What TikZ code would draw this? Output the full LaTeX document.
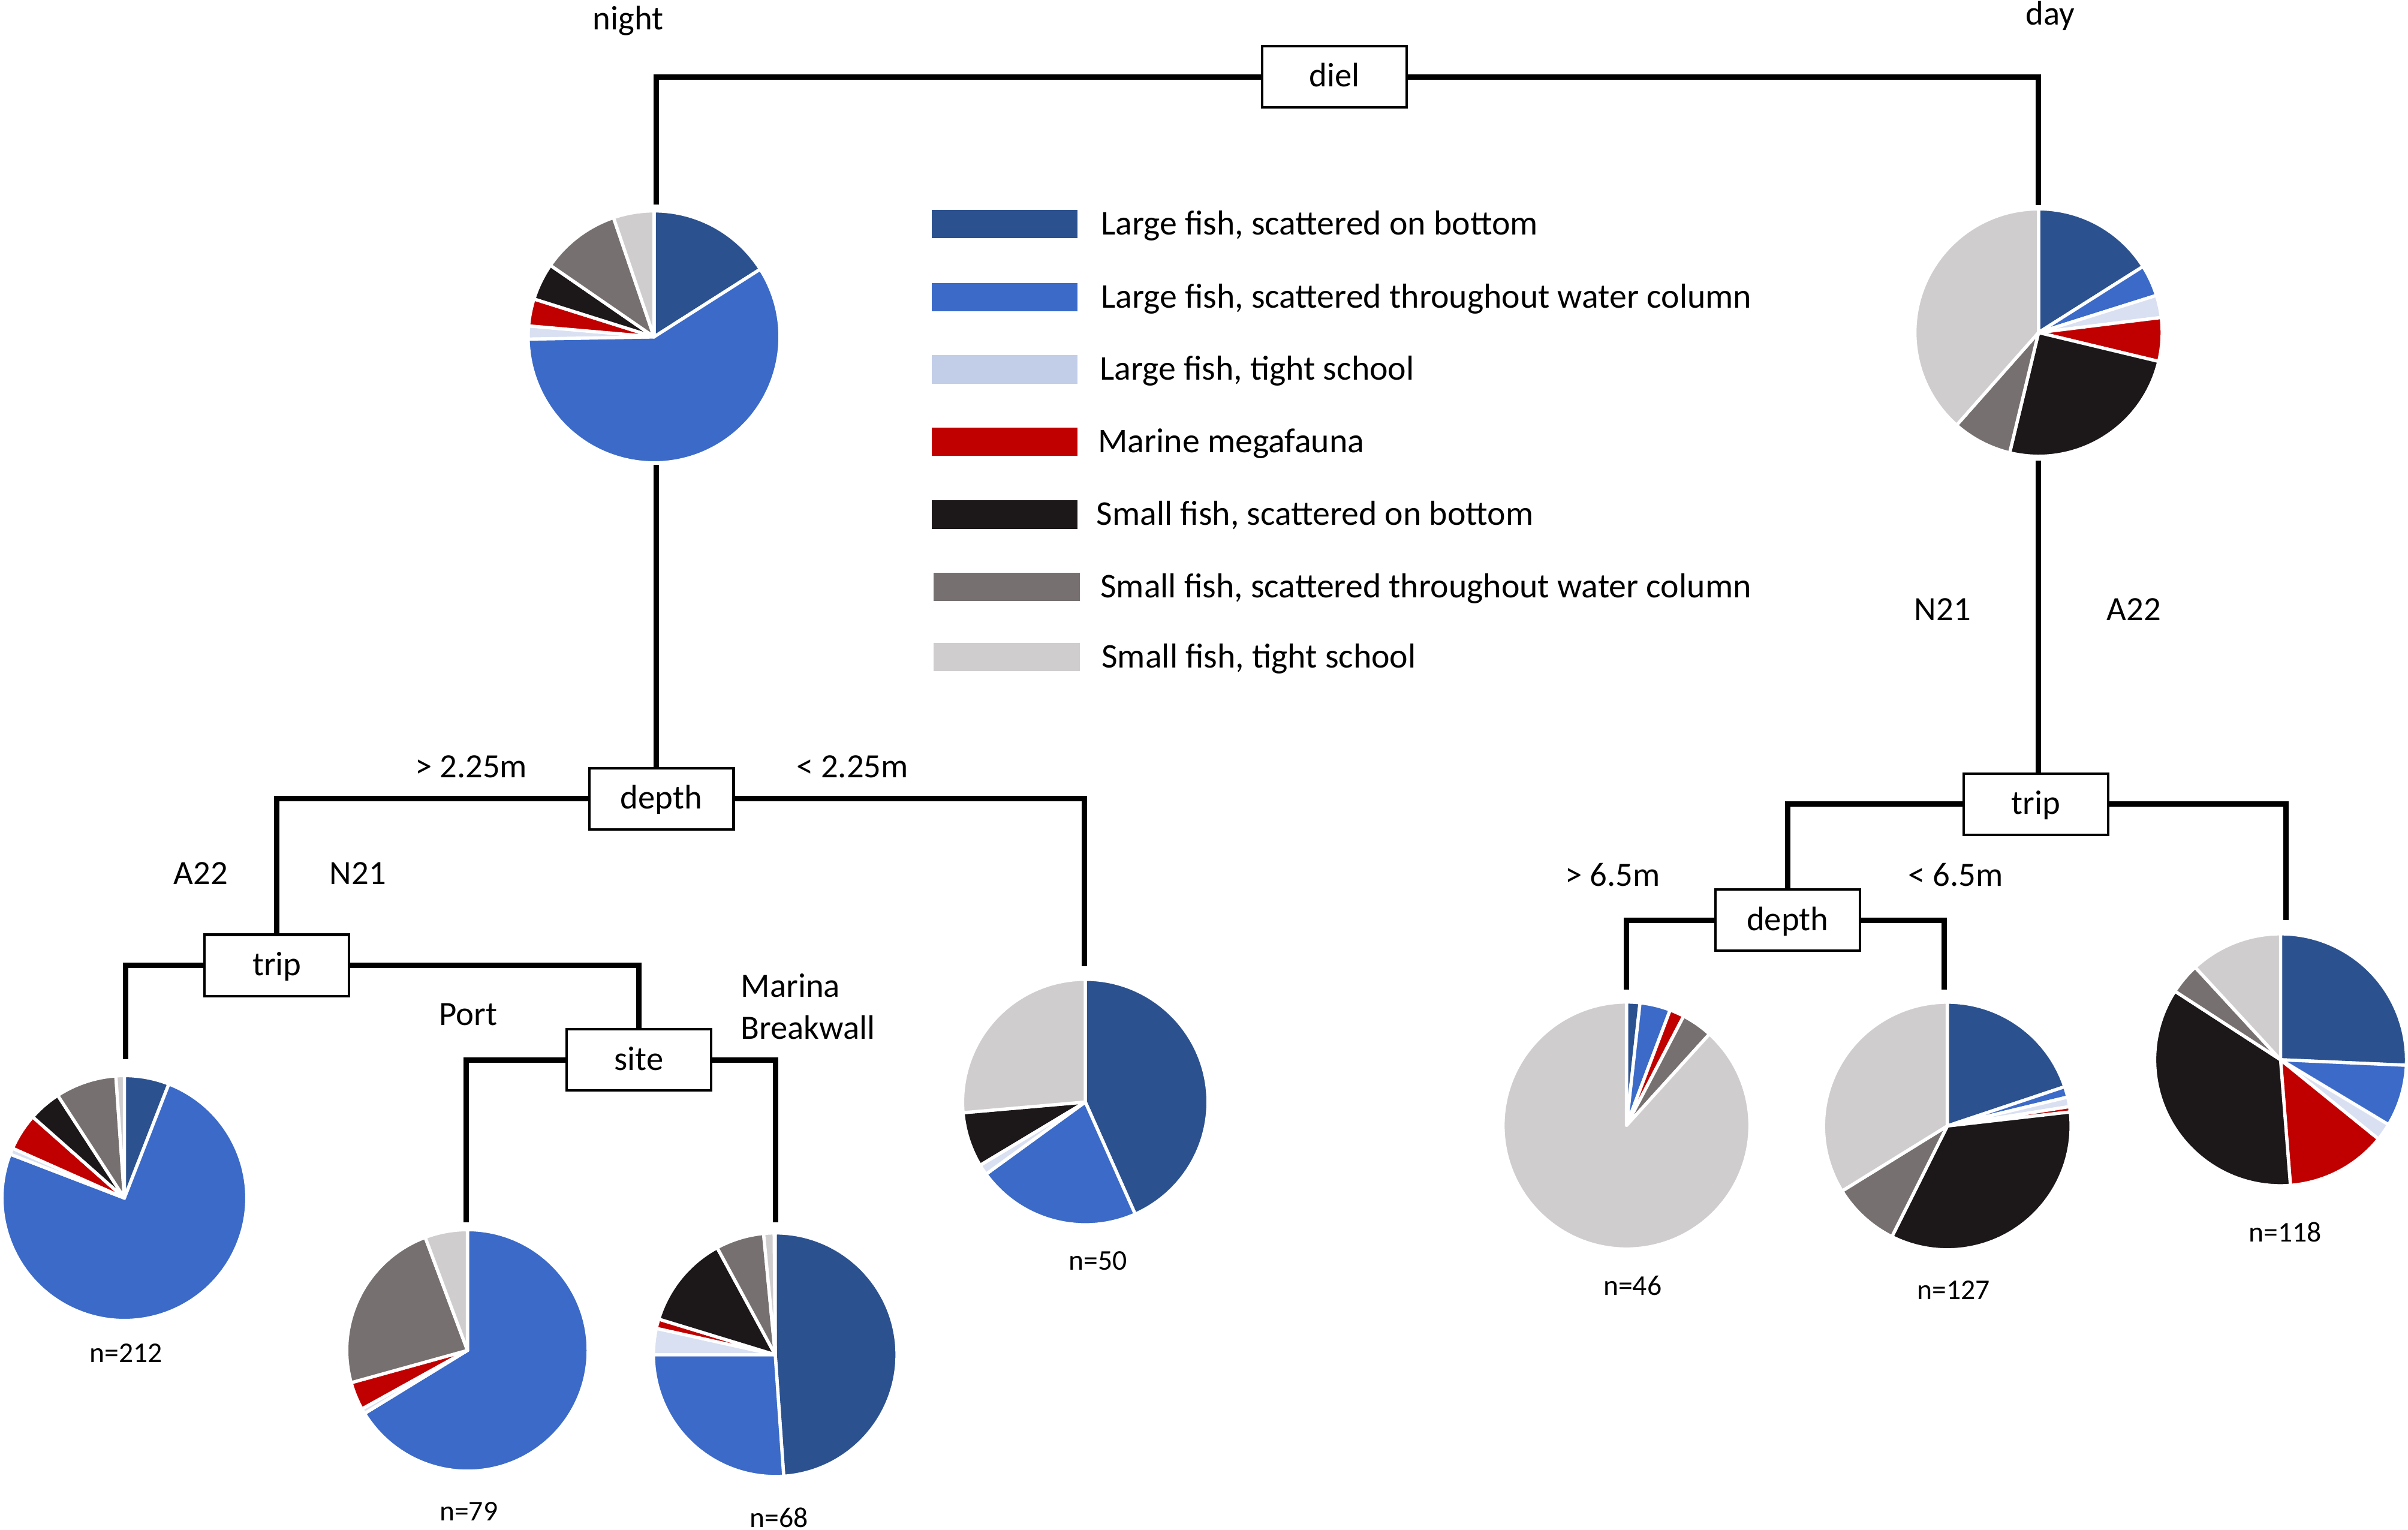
\documentclass[tikz,border=0pt]{standalone}
\usepackage{fontspec}
\setmainfont{Carlito}
\definecolor{cA}{RGB}{44,81,143}
\definecolor{cB}{RGB}{59,106,200}
\definecolor{cC}{RGB}{217,224,242}
\definecolor{cCleg}{RGB}{194,205,232}
\definecolor{cD}{RGB}{192,0,0}
\definecolor{cE}{RGB}{28,24,25}
\definecolor{cF}{RGB}{118,113,112}
\definecolor{cG}{RGB}{208,205,206}
\newcommand{\drawpie}[5]{%
  \pgfmathsetmacro{\pieys}{-#4/#3}%
  \begin{scope}[shift={(#1,#2)}, yscale=\pieys]
    \foreach \a/\b/\c in {#5}{%
      \fill[fill=\c, draw=white, line width=1.2pt, line join=round]
        (0,0) -- (90-\a:#3) arc[start angle=90-\a, end angle=90-\b, radius=#3] -- cycle;
    }
  \end{scope}}
\begin{document}
\begin{tikzpicture}[x=0.02cm, y=-0.02cm,
  conn/.style={line width=2pt, line join=miter},
  box/.style={draw, line width=0.9pt, fill=white, minimum width=1.88cm, minimum height=0.8cm, inner sep=0pt, font=\fontsize{12.6}{15}\selectfont, text height=9pt, text depth=1.5pt},
  txt/.style={inner sep=0pt, font=\fontsize{12.6}{15}\selectfont, text height=8pt, text depth=0pt},
  ntxt/.style={inner sep=0pt, font=\fontsize{10.6}{12}\selectfont, text height=6.7pt, text depth=0pt},
  legbox/.style={minimum width=1.9cm, minimum height=0.368cm, inner sep=0pt},
  legtxt/.style={anchor=base west, inner sep=0pt, font=\fontsize{12.85}{15}\selectfont}]
\useasboundingbox[fill=white] (0,0) rectangle (1568,996);

% ---------- pies ----------
\drawpie{425.9}{219.3}{82}{82}{0/57.5/cA, 57.5/269/cB, 269/275/cC, 275/287.5/cD, 287.5/304.6/cE, 304.6/341.2/cF, 341.2/360/cG}
\drawpie{1327.4}{216.5}{80.5}{80.5}{0/57.7/cA, 57.7/72.5/cB, 72.5/83/cC, 83/103.5/cD, 103.5/193.5/cE, 193.5/221.5/cF, 221.5/360/cG}
\drawpie{81}{779.9}{79.7}{79.7}{0/21.3/cA, 21.3/291/cB, 291/294/cC, 294/311.5/cD, 311.5/327/cE, 327/356/cF, 356/360/cG}
\drawpie{304.4}{879.1}{78.6}{78.6}{0/238.5/cB, 238.5/241/cC, 241/254.5/cD, 254.5/339.5/cF, 339.5/360/cG}
\drawpie{504.8}{881.9}{79.3}{79.3}{0/176/cA, 176/270/cB, 270/282.5/cC, 282.5/287/cD, 287/331.5/cE, 331.5/354.5/cF, 354.5/359.5/cG}
\drawpie{706.7}{717.4}{79.9}{79.9}{0/156/cA, 156/234/cB, 234/239/cC, 239/265/cE, 265/360/cG}
\drawpie{1059.1}{732.7}{80.4}{80.4}{0/6.3/cA, 6.3/20.7/cB, 20.7/27.6/cD, 27.6/42.2/cF, 42.2/360/cG}
\drawpie{1268}{733}{80.6}{80.6}{0/71.5/cA, 71.5/76.5/cB, 76.5/81/cC, 81/83.5/cD, 83.5/206.6/cE, 206.6/238.3/cF, 238.3/360/cG}
\drawpie{1485}{689.9}{82}{82}{0/92.5/cA, 92.5/121/cB, 121/129/cC, 129/175.5/cD, 175.5/303/cE, 303/317.3/cF, 317.3/360/cG}

% ---------- tree nodes ----------
\node[txt] (night) at (409,12.5) {night};
\node[txt] (day) at (1335,9) {day};
\node[box] (diel) at (869,50) {diel};
\node[box] (depthL) at (430.7,520) {depth};
\node[box] (tripL) at (180.3,628.5) {trip};
\node[box] (site) at (416,690) {site};
\node[box] (tripR) at (1325.8,523.5) {trip};
\node[box] (depthR) at (1164,599) {depth};

\coordinate (nightT) at (427.5,133);
\coordinate (nightB) at (427.5,302.6);
\coordinate (dayT) at (1327.2,133.4);
\coordinate (dayB) at (1327.2,300);
\coordinate (p212T) at (81.7,689.7);
\coordinate (p79T) at (303.6,795.8);
\coordinate (p68T) at (505.2,795.8);
\coordinate (p50T) at (706,628.8);
\coordinate (p118T) at (1488.5,599);
\coordinate (p46T) at (1059.2,644.4);
\coordinate (p127T) at (1266.1,644.4);

% ---------- connectors ----------
\draw[conn] (nightT) |- (diel.west);
\draw[conn] (dayT) |- (diel.east);
\draw[conn] (nightB) -- (nightB |- depthL.north);
\draw[conn] (depthL.west) -| (tripL.north);
\draw[conn] (depthL.east) -| (p50T);
\draw[conn] (tripL.west) -| (p212T);
\draw[conn] (tripL.east) -| (site.north);
\draw[conn] (site.west) -| (p79T);
\draw[conn] (site.east) -| (p68T);
\draw[conn] (dayB) -- (dayB |- tripR.north);
\draw[conn] (tripR.west) -| (depthR.north);
\draw[conn] (tripR.east) -| (p118T);
\draw[conn] (depthR.west) -| (p46T);
\draw[conn] (depthR.east) -| (p127T);

% ---------- branch labels ----------
\node[txt] (gt225) at (306.8,499) {> 2.25m};
\node[txt] (lt225) at (555,499) {< 2.25m};
\node[txt] (a22L) at (130.7,568.6) {A22};
\node[txt] (n21L) at (233,568.6) {N21};
\node[txt] (port) at (304.8,660.6) {Port};
\node[txt, anchor=west] (marina) at (482.1,642) {Marina};
\node[txt, anchor=west] (breakwall) at (482.1,669.5) {Breakwall};
\node[txt] (n21R) at (1265,396.7) {N21};
\node[txt] (a22R) at (1389.6,396.7) {A22};
\node[txt] (gt65) at (1050,570) {> 6.5m};
\node[txt] (lt65) at (1273.5,570) {< 6.5m};

% ---------- sample sizes ----------
\node[ntxt] (n212) at (82,881) {n=212};
\node[ntxt] (n79) at (305.2,984) {n=79};
\node[ntxt] (n68) at (507.3,988.4) {n=68};
\node[ntxt] (n50) at (714.8,820.7) {n=50};
\node[ntxt] (n46) at (1063,837.4) {n=46};
\node[ntxt] (n127) at (1272,839.9) {n=127};
\node[ntxt] (n118) at (1488,802.4) {n=118};

% ---------- legend ----------
\node[legbox, fill=cA] (lb1) at (654.3,146) {};
\node[legbox, fill=cB] (lb2) at (654.3,193.3) {};
\node[legbox, fill=cCleg] (lb3) at (654.3,240.5) {};
\node[legbox, fill=cD] (lb4) at (654.3,287.7) {};
\node[legbox, fill=cE] (lb5) at (654.3,335) {};
\node[legbox, fill=cF] (lb6) at (655.5,382) {};
\node[legbox, fill=cG] (lb7) at (655.5,427.8) {};
\node[legtxt] (lt1) at (716.5,153) {Large fish, scattered on bottom};
\node[legtxt] (lt2) at (716.5,200.3) {Large fish, scattered throughout water column};
\node[legtxt] (lt3) at (715.8,247.5) {Large fish, tight school};
\node[legtxt] (lt4) at (714.7,294.7) {Marine megafauna};
\node[legtxt] (lt5) at (713.6,342) {Small fish, scattered on bottom};
\node[legtxt] (lt6) at (716.2,389) {Small fish, scattered throughout water column};
\node[legtxt] (lt7) at (717,434.8) {Small fish, tight school};
\end{tikzpicture}
\end{document}
